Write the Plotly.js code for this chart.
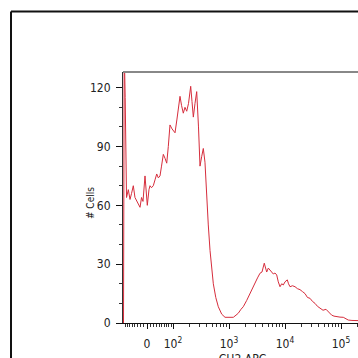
<!DOCTYPE html>
<html>
<head>
<meta charset="utf-8">
<script src="https://cdn.plot.ly/plotly-3.0.1.min.js"></script>
<style>
html,body{margin:0;padding:0;overflow:hidden;background:#fff;width:358px;height:358px;}
#chart{position:absolute;left:0;top:0;width:380px;height:380px;}
</style>
</head>
<body>
<div id="chart"></div>
<script>
// x in display (biexponential) decade units: 10^k sits at k, zero sits at ZERO_POS
var ZERO_POS = 1.536;
var xDecade = [1.116,1.129,1.146,1.170,1.202,1.232,1.259,1.291,1.321,1.352,1.384,1.411,1.438,1.464,1.500,1.541,1.571,1.589,1.616,1.648,1.679,1.709,1.738,1.768,1.795,1.827,1.857,1.888,1.916,1.946,1.982,2.036,2.071,2.125,2.152,2.184,2.214,2.245,2.277,2.316,2.339,2.363,2.393,2.423,2.455,2.482,2.513,2.541,2.571,2.602,2.630,2.661,2.691,2.720,2.764,2.809,2.870,2.929,3.000,3.077,3.125,3.166,3.214,3.255,3.316,3.375,3.420,3.464,3.509,3.554,3.589,3.630,3.652,3.673,3.702,3.732,3.763,3.791,3.821,3.852,3.880,3.911,3.941,3.970,4.000,4.041,4.063,4.089,4.134,4.179,4.223,4.268,4.313,4.357,4.402,4.446,4.491,4.536,4.580,4.625,4.679,4.732,4.786,4.834,4.875,4.923,4.982,5.041,5.089,5.130,5.196,5.280,5.339];
var cells = [0,140,115,64,68,63,66,70,64,62,60,59,64,62,75,60,68,70,69,70,73,76,74,75,80,86,84,81.5,90,101,99,97,104,115.6,111,107,110,108,112,120.7,113,105,112,118,100,80,85,89,82,63,50,37,28,20,13,8.3,4.5,2.9,2.9,2.9,4,5,7,8.3,11.5,15,18,21,23,25.4,26,30.5,28,26,28,27,26,25,25.5,24.5,21,18.5,20,19.4,21,22,20,18.5,19,18.5,17.5,17,16,15,13,12.6,11,10,8.5,7.5,6.5,7,5.5,4,3.5,3.2,3,2.9,2,1.5,1.3,1.2,1.2];

var xTickVals = [ZERO_POS, 2, 3, 4, 5];
var xTickText = ['0', '10<sup>2</sup>', '10<sup>3</sup>', '10<sup>4</sup>', '10<sup>5</sup>'];
var yTickVals = [0, 30, 60, 90, 120];
var yTickText = ['0', '30', '60', '90', '120'];
var linearMinor = [10,20,30,40,50,60,70,80,90];
var minorMult = [2,3,4,5,6,7,8,9];
var minorDecades = [2,3,4,5];

// minor tick positions
var xMinor = [];
linearMinor.forEach(function(v){
  var d = Math.asinh(v/77.6)/Math.LN10;
  xMinor.push(ZERO_POS + d, ZERO_POS - d);
});
minorDecades.forEach(function(k){
  minorMult.forEach(function(m){ xMinor.push(k + Math.log10(m)); });
});

var trace = {
  x: xDecade, y: cells, type: 'scatter', mode: 'lines',
  line: {color: 'rgb(214,45,60)', width: 1},
  hoverinfo: 'skip'
};

var FAM = 'Liberation Sans Narrow, DejaVu Sans Condensed, Arial, sans-serif';

var layout = {
  width: 380, height: 380,
  margin: {l: 123, r: 18, t: 72, b: 57},
  paper_bgcolor: '#fff', plot_bgcolor: '#fff',
  showlegend: false,
  font: {family: FAM, size: 12, color: '#222'},
  xaxis: {
    range: [1.107, 5.375],
    tickmode: 'array', tickvals: xTickVals, ticktext: xTickText,
    ticks: 'outside', ticklen: 5, tickcolor: '#111', tickwidth: 1,
    minor: {tickmode: 'array', tickvals: xMinor, ticks: 'outside', ticklen: 3, tickcolor: '#333', tickwidth: 1},
    showline: true, linecolor: '#111', linewidth: 1,
    showgrid: false, zeroline: false,
    ticklabelstandoff: 5,
    tickfont: {family: FAM, size: 12, color: '#222'},
    title: {text: 'CH2 APC', font: {family: FAM, size: 12, color: '#222'}, standoff: 4}
  },
  yaxis: {
    range: [0, 128],
    tickmode: 'array', tickvals: yTickVals, ticktext: yTickText,
    ticks: 'outside', ticklen: 6, tickcolor: '#111', tickwidth: 1,
    minor: {dtick: 10, ticks: 'outside', ticklen: 3, tickcolor: '#333'},
    showline: true, linecolor: '#333', linewidth: 1,
    showgrid: false, zeroline: false,
    ticklabelstandoff: 3,
    tickfont: {family: FAM, size: 12, color: '#222'}
  },
  annotations: [
    {text: '# Cells', xref: 'paper', yref: 'paper', x: -0.138, y: 0.478,
     xanchor: 'center', yanchor: 'middle', textangle: -90, showarrow: false,
     font: {family: FAM, size: 10, color: '#222'}}
  ],
  shapes: [
    {type: 'line', xref: 'paper', yref: 'paper', x0: 0, x1: 1.2, y0: 1, y1: 1,
     line: {color: '#888', width: 2}},
    {type: 'line', xref: 'paper', yref: 'paper', x0: -0.4686, x1: 1.2, y0: 1.2407, y1: 1.2407,
     line: {color: '#111', width: 2}},
    {type: 'line', xref: 'paper', yref: 'paper', x0: -0.4686, x1: -0.4686, y0: -0.3, y1: 1.2407,
     line: {color: '#111', width: 2}}
  ]
};

Plotly.newPlot('chart', [trace], layout, {staticPlot: true, displayModeBar: false});
</script>
</body>
</html>
